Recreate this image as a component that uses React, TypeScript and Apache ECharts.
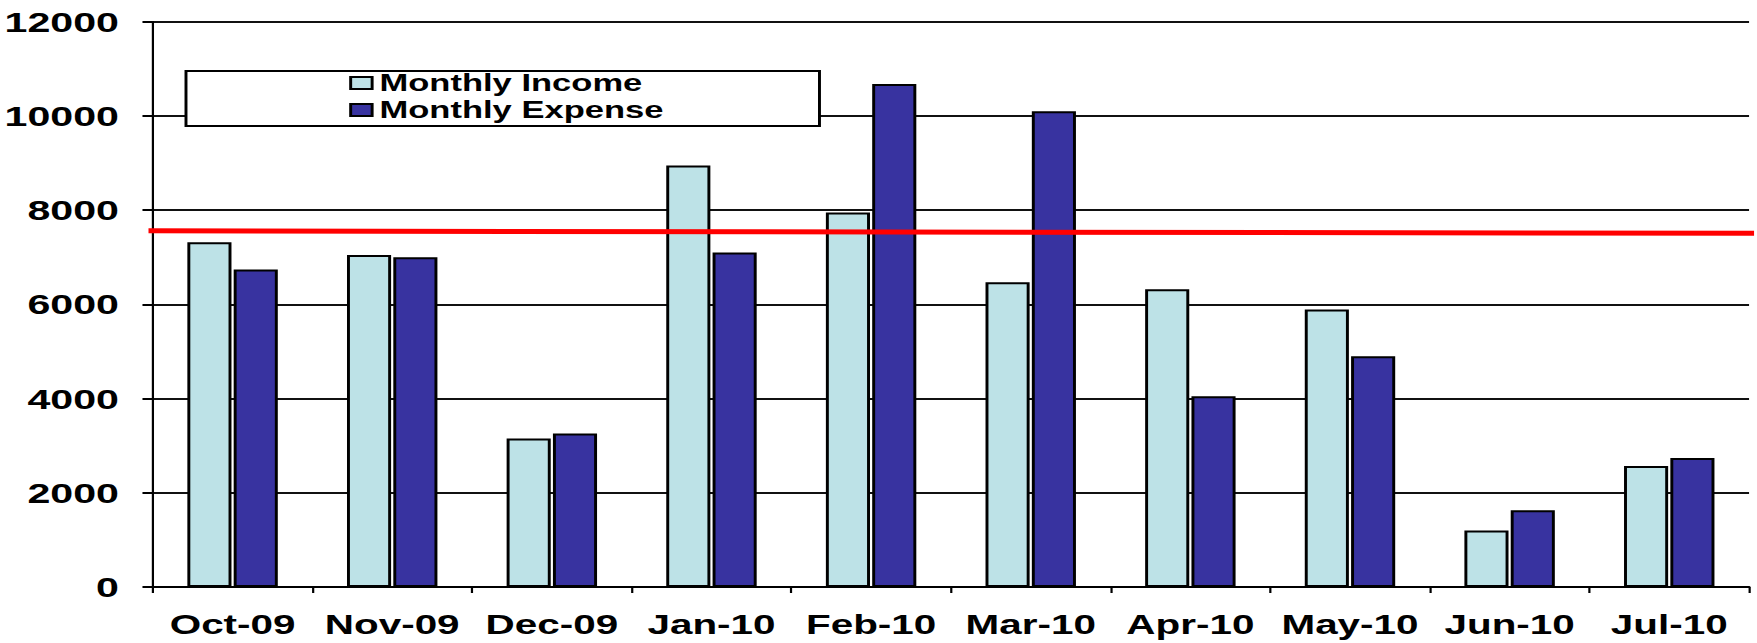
import React, { useEffect, useRef } from "react";
import * as echarts from "echarts";

// ---- data ----
const categories = ["Oct-09", "Nov-09", "Dec-09", "Jan-10", "Feb-10", "Mar-10", "Apr-10", "May-10", "Jun-10", "Jul-10"];
const monthlyIncome = [7320, 7050, 3150, 8950, 7950, 6470, 6320, 5890, 1200, 2570];
const monthlyExpense = [6740, 7000, 3260, 7100, 10680, 10100, 4050, 4900, 1630, 2740];
const seriesNames = ["Monthly Income", "Monthly Expense"];
const yAxisMin = 0;
const yAxisMax = 12000;
const yAxisStep = 2000;
// red reference line: positions along the category span (0..10) and its values
const referenceLineX = [-0.06, 10.05];
const referenceLineY = [7560, 7510];

// the reference picture is horizontally stretched; reproduce it by stretching the chart
const PAGE_W = 1757;
const PAGE_H = 643;
const CHART_W = 1195;
const STRETCH = PAGE_W / CHART_W;

const FONT = "'Liberation Sans', Arial, sans-serif";

export default function App() {
  const ref = useRef<HTMLDivElement>(null);

  useEffect(() => {
    if (!ref.current) return;
    const chart = echarts.init(ref.current, undefined, { renderer: "svg" });
    const refLine = referenceLineX.map((x, i) => [x, referenceLineY[i]]);
    chart.setOption({
      animation: false,
      backgroundColor: "#ffffff",
      grid: {
        left: 103.9,
        right: 5.4,
        top: 21.7,
        bottom: 56,
        containLabel: false,
        outerBoundsMode: "none",
      },
      legend: {
        data: seriesNames,
        orient: "vertical",
        left: 126.5,
        top: 71,
        padding: [0, 106, 4, 111],
        itemGap: 3,
        itemWidth: 14.6,
        itemHeight: 12,
        icon: "rect",
        borderColor: "#000",
        borderWidth: 2,
        backgroundColor: "#fff",
        textStyle: {
          fontFamily: FONT,
          fontWeight: "bold",
          fontSize: 23.5,
          lineHeight: 24,
          color: "#000",
        },
      },
      xAxis: [
        {
          type: "category",
          data: categories,
          boundaryGap: true,
          axisLine: { show: true, lineStyle: { color: "#000", width: 2 } },
          axisTick: { show: true, length: 6, lineStyle: { color: "#000", width: 1.5 } },
          axisLabel: {
            interval: 0,
            margin: 23,
            fontFamily: FONT,
            fontWeight: "bold",
            fontSize: 27.5,
            color: "#000",
          },
          splitLine: { show: false },
        },
        {
          type: "value",
          min: 0,
          max: categories.length,
          show: false,
        },
      ],
      yAxis: {
        type: "value",
        min: yAxisMin,
        max: yAxisMax,
        interval: yAxisStep,
        axisLine: { show: true, lineStyle: { color: "#000", width: 1.5 } },
        axisTick: { show: true, length: 7, lineStyle: { color: "#000", width: 2 } },
        axisLabel: {
          margin: 23,
          fontFamily: FONT,
          fontWeight: "bold",
          fontSize: 28,
          color: "#000",
          formatter: (v: number) => String(v),
        },
        splitLine: { show: true, lineStyle: { color: "#111", width: 2 } },
      },
      series: [
        {
          name: seriesNames[0],
          type: "bar",
          data: monthlyIncome,
          barWidth: 30,
          barGap: "5%",
          itemStyle: {
            color: "#bde2e7",
            borderColor: "#000",
            borderWidth: 2,
          },
        },
        {
          name: seriesNames[1],
          type: "bar",
          data: monthlyExpense,
          barWidth: 30,
          barGap: "5%",
          itemStyle: {
            color: "#3833a0",
            borderColor: "#000",
            borderWidth: 2,
          },
        },
        {
          name: "Reference",
          type: "line",
          xAxisIndex: 1,
          data: refLine,
          symbol: "none",
          clip: false,
          z: 5,
          lineStyle: { color: "#ff0000", width: 5 },
        },
      ],
    });
    return () => chart.dispose();
  }, []);

  return (
    <div
      style={{
        position: "absolute",
        left: 0,
        top: 0,
        width: PAGE_W,
        height: PAGE_H,
        overflow: "hidden",
        background: "#fff",
      }}
    >
      <div
        ref={ref}
        style={{
          width: CHART_W,
          height: PAGE_H,
          transform: `scaleX(${STRETCH})`,
          transformOrigin: "0 0",
        }}
      />
    </div>
  );
}
